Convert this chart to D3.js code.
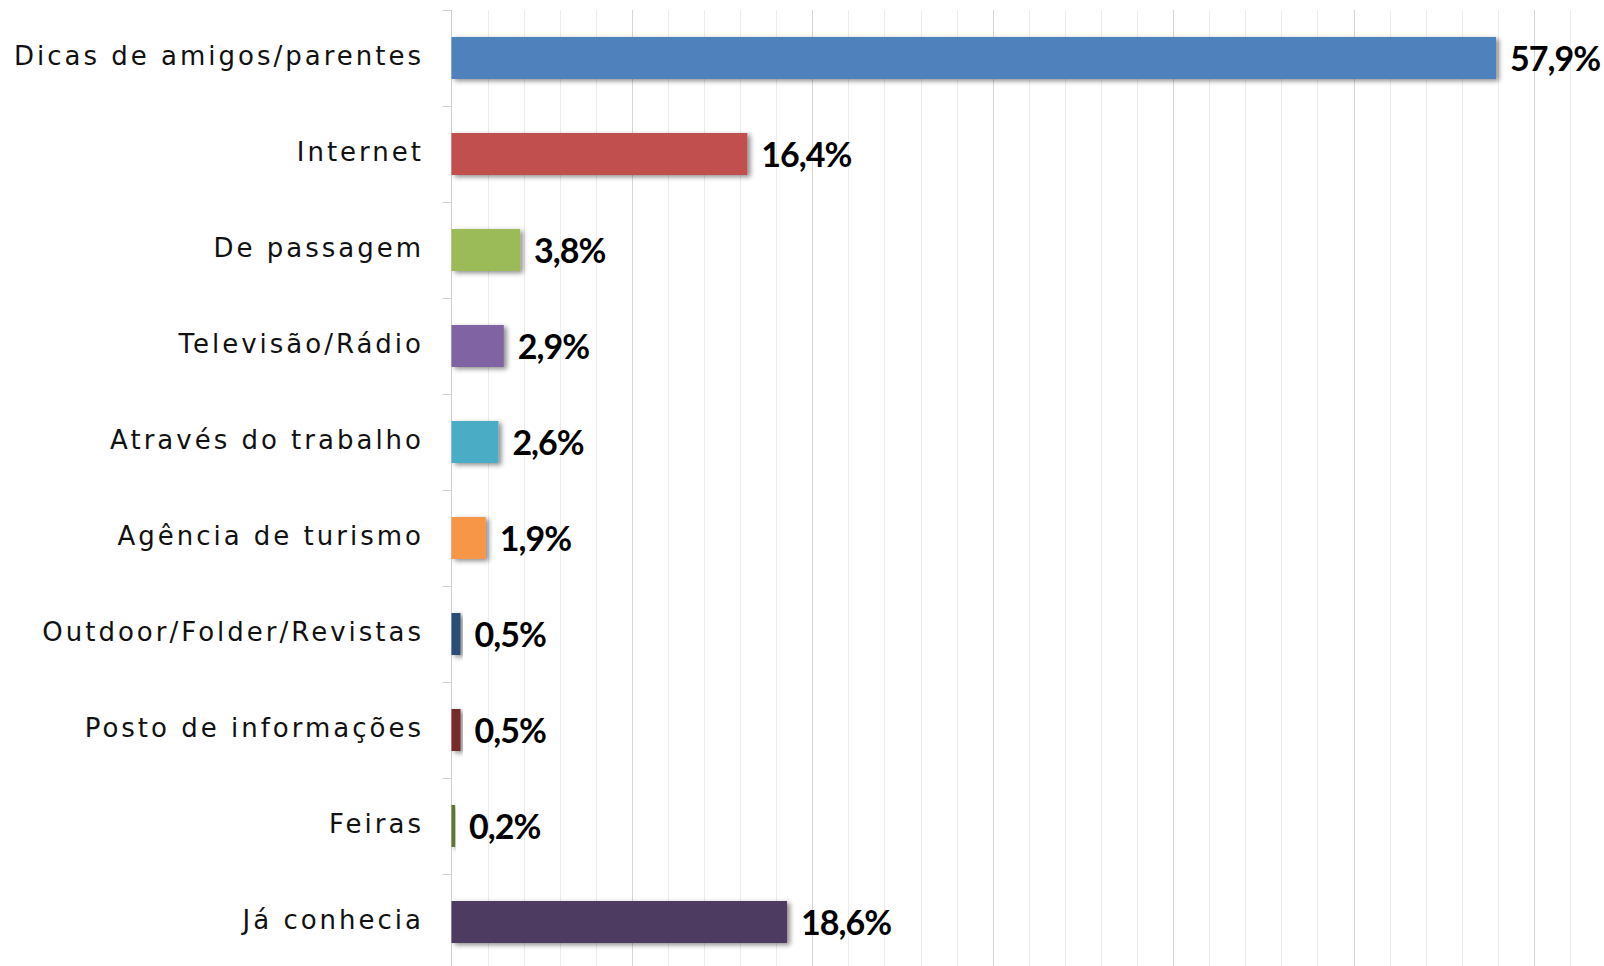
<!DOCTYPE html>
<html>
<head>
<meta charset="utf-8">
<script src="https://cdn.jsdelivr.net/npm/d3@7"></script>
<style>
  html, body { margin: 0; padding: 0; background: #fff; }
  svg { display: block; }
</style>
</head>
<body>
<svg id="chart" width="1604" height="966"></svg>
<script>
const categories = [
  "Dicas de amigos/parentes",
  "Internet",
  "De passagem",
  "Televisão/Rádio",
  "Através do trabalho",
  "Agência de turismo",
  "Outdoor/Folder/Revistas",
  "Posto de informações",
  "Feiras",
  "Já conhecia"
];
const values = [57.9, 16.4, 3.8, 2.9, 2.6, 1.9, 0.5, 0.5, 0.2, 18.6];
const valueLabels = ["57,9%", "16,4%", "3,8%", "2,9%", "2,6%", "1,9%", "0,5%", "0,5%", "0,2%", "18,6%"];
const colors = ["#4f81bd", "#c0504d", "#9bbb59", "#8064a2", "#4bacc6", "#f79646", "#2c4d75", "#772c2a", "#5f7530", "#4d3b62"];

const svg = d3.select("#chart");
const x0 = 451.5;
const x = d3.scaleLinear().domain([0, 64]).range([x0, x0 + 64 * 18.04]);
const y = d3.scaleBand().domain(categories).range([10, 970]).paddingInner(0.5625).paddingOuter(0.28125);

const defs = svg.append("defs");
const f = defs.append("filter").attr("id", "shadow").attr("x", "-20%").attr("y", "-40%").attr("width", "140%").attr("height", "180%");
f.append("feDropShadow").attr("dx", 3).attr("dy", 2).attr("stdDeviation", 2.5).attr("flood-color", "#000").attr("flood-opacity", 0.45);

// gridlines
const gridTicks = d3.range(2, 64, 2);
svg.append("g").selectAll("line").data(gridTicks).join("line")
  .attr("x1", d => Math.round(x(d)) + 0.5).attr("x2", d => Math.round(x(d)) + 0.5)
  .attr("y1", 10).attr("y2", 966)
  .attr("stroke", d => d % 10 === 0 ? "#d6d6d6" : "#ececec")
  .attr("stroke-width", 1);

// y axis
const yAxis = svg.append("g");
yAxis.append("line").attr("x1", x0).attr("x2", x0).attr("y1", 10).attr("y2", 970)
  .attr("stroke", "#cfcfcf").attr("stroke-width", 1);
const boundaries = d3.range(0, categories.length + 1).map(i => 10 + i * y.step());
yAxis.selectAll("line.tick").data(boundaries).join("line").attr("class", "tick")
  .attr("x1", x0 - 9).attr("x2", x0).attr("y1", d => d + 0.5).attr("y2", d => d + 0.5)
  .attr("stroke", "#cfcfcf").attr("stroke-width", 1);

// bars
svg.append("g").selectAll("rect").data(categories).join("rect")
  .attr("x", x(0))
  .attr("y", d => y(d))
  .attr("width", (d, i) => x(values[i]) - x(0))
  .attr("height", y.bandwidth())
  .attr("fill", (d, i) => colors[i])
  .attr("filter", "url(#shadow)");

// category labels
svg.append("g").selectAll("text").data(categories).join("text")
  .attr("x", 424)
  .attr("y", d => y(d) + y.bandwidth() / 2 + 7)
  .attr("text-anchor", "end")
  .attr("font-family", "DejaVu Sans, sans-serif")
  .attr("font-size", 26)
  .attr("letter-spacing", 3)
  .attr("fill", "#111")
  .text(d => d);

// value labels
svg.append("g").selectAll("text").data(categories).join("text")
  .attr("x", (d, i) => x(values[i]) + 14)
  .attr("y", d => y(d) + y.bandwidth() / 2 + 13)
  .attr("font-family", "Lato, sans-serif")
  .attr("font-weight", 700)
  .attr("font-size", 34)
  .attr("letter-spacing", -1)
  .attr("fill", "#000")
  .text((d, i) => valueLabels[i]);
</script>
</body>
</html>
